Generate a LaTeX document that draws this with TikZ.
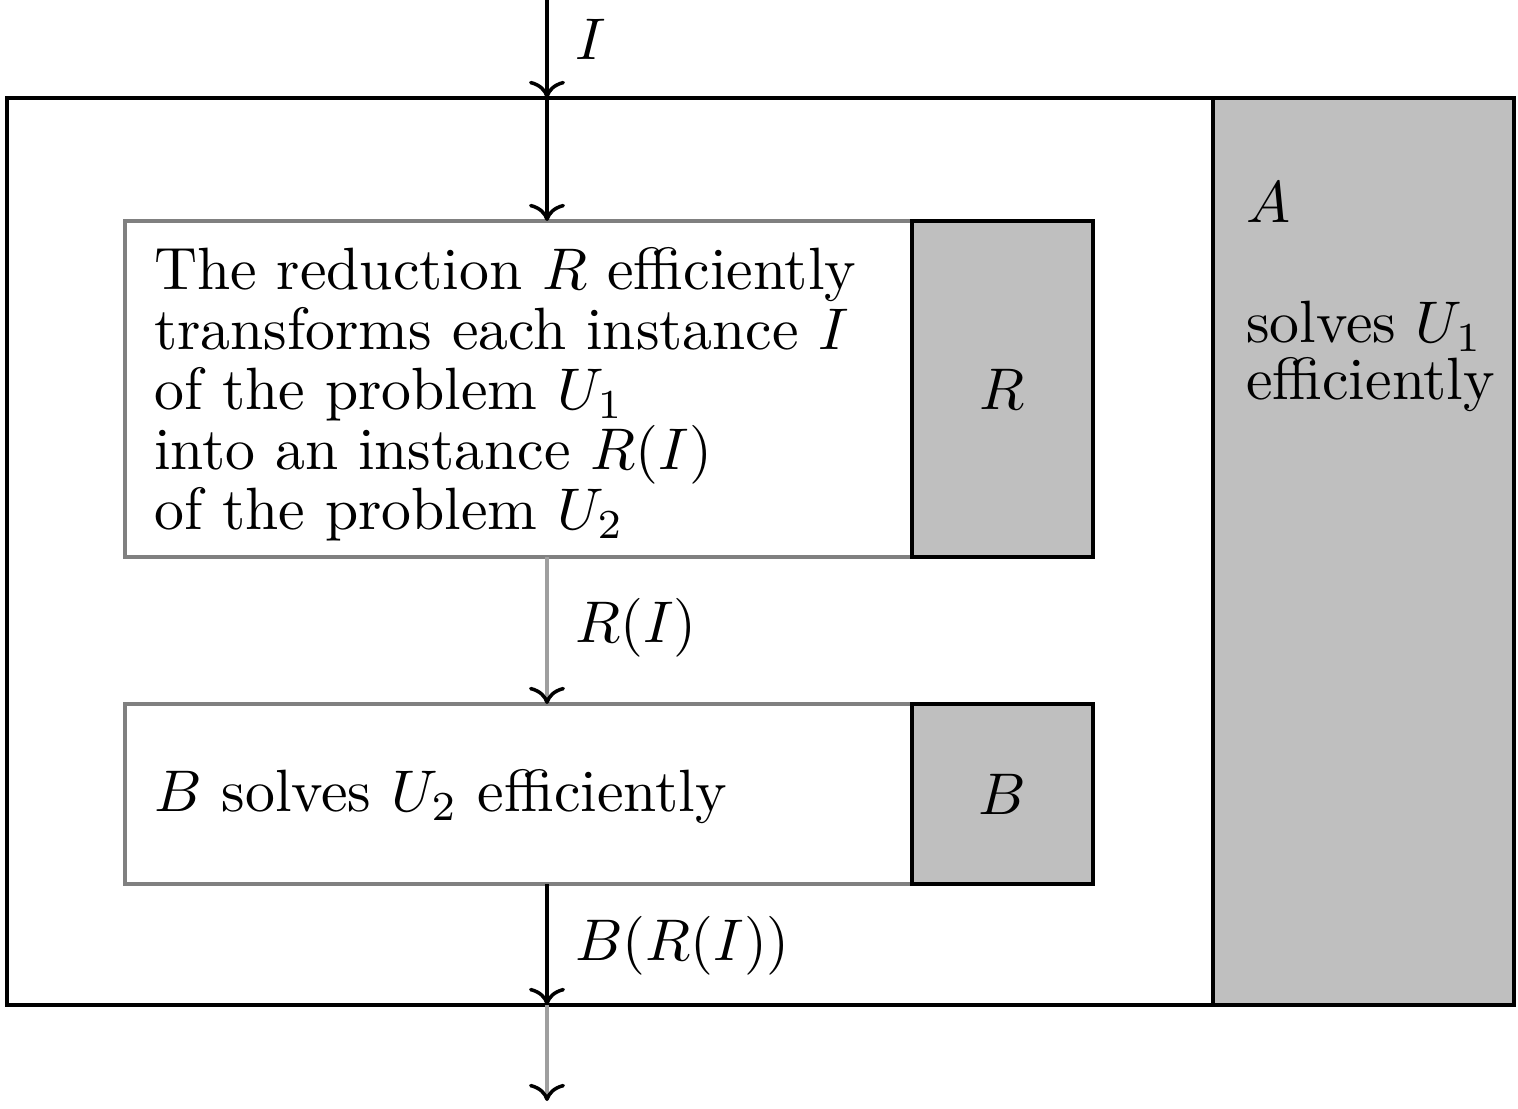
\documentclass[tikz,border=0pt]{standalone}
\usetikzlibrary{arrows.meta}
\begin{document}
\begin{tikzpicture}[x=0.17pt,y=-0.17pt,
  blackbox/.style={draw=black,line width=0.6pt,inner sep=0pt,outer sep=0pt,anchor=north west},
  greybox/.style={blackbox,fill=lightgray},
  whitebox/.style={draw=gray,line width=0.6pt,inner sep=0pt,outer sep=0pt,anchor=north west,fill=white},
  blackarrow/.style={line width=0.6pt,-{To[color=black]}},
  greyarrow/.style={line width=0.6pt,draw=gray!75,-{To[color=black]}},
  lbl/.style={inner sep=0pt,anchor=base west},
  boxtext/.style={inner sep=0pt,anchor=north west,align=left}]
\useasboundingbox (0,0) rectangle (1518,1109);
% outer box A
\node[blackbox,minimum width=256.19pt,minimum height=154.19pt] (outer) at (7,98) {};
\node[greybox,minimum width=51.17pt,minimum height=154.19pt] (acol) at (1213,98) {};
% R boxes
\node[whitebox,minimum width=133.79pt,minimum height=57.12pt] (Rw) at (125,221) {};
\node[greybox,minimum width=30.77pt,minimum height=57.12pt] (Rg) at (912,221) {};
% B boxes
\node[whitebox,minimum width=133.79pt,minimum height=30.6pt] (Bw) at (125,704) {};
\node[greybox,minimum width=30.77pt,minimum height=30.6pt] (Bg) at (912,704) {};
% texts
\node[boxtext,font=\fontsize{10.15}{10.2}\selectfont] (Rtext) at (153,246)
  {The reduction $R$ efficiently\\transforms each instance $I$\\of the problem $U_1$\\into an instance $R(I)$\\of the problem $U_2$};
\node (Rlabel) at (Rg.center) {$R$};
\node[lbl,font=\fontsize{10.15}{12}\selectfont] (Btext) at (153,812) {$B$ solves $U_2$ efficiently};
\node (Blabel) at (Bg.center) {$B$};
\node[lbl] (Alabel) at (1245,223) {$A$};
\node[lbl,align=left,font=\fontsize{10.15}{12}\selectfont] (Atext) at (1245,400) {solves $U_1$\\[-2.3pt]efficiently};
% connectors
\coordinate (in) at (547,0);
\coordinate (atop) at (547,98);
\coordinate (abot) at (547,1005);
\coordinate (out) at (547,1101);
\draw[blackarrow] (in) -- (atop);
\draw[blackarrow] (atop) -- (in |- Rw.north);
\draw[greyarrow] (in |- Rw.south) -- (in |- Bw.north);
\draw[blackarrow] (in |- Bw.south) -- (abot);
\draw[greyarrow] (abot) -- (out);
\node[lbl] (lI) at (574,60) {$I$};
\node[lbl] (lRI) at (574,643) {$R(I)$};
\node[lbl] (lBRI) at (574,960) {$B(R(I))$};
\end{tikzpicture}
\end{document}
